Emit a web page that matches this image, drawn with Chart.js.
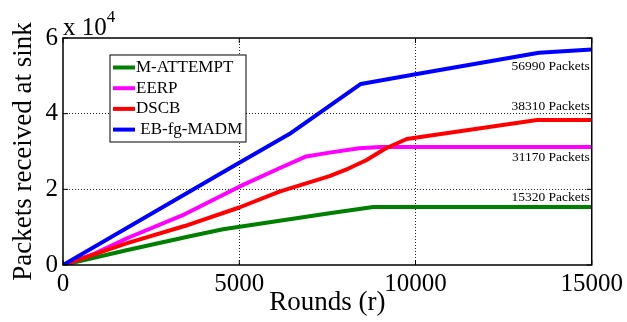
<!DOCTYPE html>
<html>
<head>
<meta charset="utf-8">
<script src="https://cdn.jsdelivr.net/npm/chart.js@4.4.1/dist/chart.umd.min.js"></script>
<style>
  html, body { margin: 0; padding: 0; background: #fff; }
  #wrap { width: 627px; height: 322px; }
</style>
</head>
<body>
<div id="wrap"><canvas id="lineChart" width="627" height="322"></canvas></div>
<script>
const seriesNames = ['M-ATTEMPT', 'EERP', 'DSCB', ' EB-fg-MADM'];
const seriesColors = ['#008000', '#ff00ff', '#ff0000', '#0000ff'];

// rounds / packets
const attemptRounds = [0, 1800, 3600, 4540, 7560, 8800, 15000];
const attemptPackets = [0, 3900, 7600, 9430, 13660, 15320, 15320];

const eerpRounds = [0, 900, 1800, 3450, 5000, 6140, 6900, 7560, 8400, 9000, 15000];
const eerpPackets = [0, 3000, 7000, 13400, 20700, 25560, 28700, 29700, 30850, 31170, 31170];

const dscbRounds = [0, 1800, 3450, 5000, 6140, 7560, 8100, 8600, 9150, 9750, 13450, 15000];
const dscbPackets = [0, 5700, 10300, 15200, 19400, 23500, 25500, 27700, 30800, 33300, 38310, 38310];

const madmRounds = [0, 4730, 6420, 8450, 10000, 13500, 15000];
const madmPackets = [0, 25560, 34600, 47850, 50400, 56120, 56990];

const xTicks = [0, 5000, 10000, 15000];
const yTicks = [0, 20000, 40000, 60000];

const serif = '"Liberation Serif", "Times New Roman", serif';

const allRounds = [attemptRounds, eerpRounds, dscbRounds, madmRounds];
const allPackets = [attemptPackets, eerpPackets, dscbPackets, madmPackets];

// end label shift (px) relative to the line
const labelShift = [-10, 10, -14, 17];

const datasets = seriesNames.map(function (name, i) {
    return {
        label: name.trim(),
        data: allRounds[i].map(function (r, j) { return { x: r, y: allPackets[i][j] }; }),
        borderColor: seriesColors[i],
        backgroundColor: seriesColors[i],
        borderWidth: 4,
        pointRadius: 0,
        tension: 0,
        borderJoinStyle: 'round',
        order: seriesNames.length - i
    };
});

function gridColor(ticks) {
    return function (c) {
        const v = c.tick.value;
        return (v === ticks[0] || v === ticks[ticks.length - 1]) ? 'rgba(0,0,0,0)' : '#222';
    };
}

const frameAndText = {
    id: 'frameAndText',
    afterDatasetsDraw(chart) {
        const ctx = chart.ctx;
        const a = chart.chartArea;
        const x = chart.scales.x;
        const y = chart.scales.y;
        ctx.save();

        // box + inward ticks
        ctx.strokeStyle = '#000';
        ctx.lineWidth = 1.5;
        ctx.strokeRect(a.left, a.top, a.right - a.left, a.bottom - a.top);
        ctx.lineWidth = 1;
        ctx.beginPath();
        xTicks.forEach(function (v) {
            const px = x.getPixelForValue(v);
            ctx.moveTo(px, a.bottom); ctx.lineTo(px, a.bottom - 5);
            ctx.moveTo(px, a.top); ctx.lineTo(px, a.top + 5);
        });
        yTicks.forEach(function (v) {
            const py = y.getPixelForValue(v);
            ctx.moveTo(a.left, py); ctx.lineTo(a.left + 5, py);
            ctx.moveTo(a.right, py); ctx.lineTo(a.right - 5, py);
        });
        ctx.stroke();

        // exponent
        ctx.fillStyle = '#000';
        ctx.textAlign = 'left';
        ctx.textBaseline = 'alphabetic';
        ctx.font = '25px ' + serif;
        ctx.fillText('x 10', a.left, a.top - 3);
        const w = ctx.measureText('x 10').width;
        ctx.font = '17px ' + serif;
        ctx.fillText('4', a.left + w, a.top - 16);

        // final values
        ctx.font = '13.5px ' + serif;
        ctx.textAlign = 'right';
        ctx.textBaseline = 'middle';
        allPackets.forEach(function (p, i) {
            const last = p[p.length - 1];
            ctx.fillText(last + ' Packets', a.right - 2, y.getPixelForValue(last) + labelShift[i]);
        });

        // legend
        const lx = a.left + 47, ly = a.top + 17;
        ctx.fillStyle = '#fff';
        ctx.fillRect(lx, ly, 136, 87);
        ctx.strokeStyle = '#000';
        ctx.lineWidth = 1;
        ctx.strokeRect(lx, ly, 136, 87);
        ctx.font = '17px ' + serif;
        ctx.textAlign = 'left';
        seriesNames.forEach(function (name, i) {
            const ry = ly + 12.5 + i * 20.7;
            ctx.strokeStyle = seriesColors[i];
            ctx.lineWidth = 4;
            ctx.beginPath();
            ctx.moveTo(lx + 3, ry);
            ctx.lineTo(lx + 25, ry);
            ctx.stroke();
            ctx.fillStyle = '#000';
            ctx.fillText(name, lx + 26, ry);
        });
        ctx.restore();
    }
};

const config = {
    type: 'line',
    data: { datasets: datasets },
    options: {
        responsive: false,
        animation: false,
        layout: { padding: { top: 38, right: 34, left: 0, bottom: 0 } },
        scales: {
            x: {
                type: 'linear',
                min: xTicks[0],
                max: xTicks[xTicks.length - 1],
                afterFit: function (s) { s.height = 57; },
                afterBuildTicks: function (s) { s.ticks = xTicks.map(function (v) { return { value: v }; }); },
                ticks: {
                    color: '#000',
                    padding: 4,
                    maxRotation: 0,
                    font: { family: serif, size: 25 },
                    callback: function (v) { return String(v); }
                },
                grid: { color: gridColor(xTicks), lineWidth: 1, drawTicks: false },
                border: { display: false, dash: [1, 2] },
                title: {
                    display: true,
                    text: 'Rounds (r)',
                    color: '#000',
                    padding: { top: 0, bottom: 3 },
                    font: { family: serif, size: 27 }
                }
            },
            y: {
                min: yTicks[0],
                max: yTicks[yTicks.length - 1],
                afterFit: function (s) { s.width = 63; },
                afterBuildTicks: function (s) { s.ticks = yTicks.map(function (v) { return { value: v }; }); },
                ticks: {
                    color: '#000',
                    padding: 5,
                    font: { family: serif, size: 25 },
                    callback: function (v) { return String(v / 10000); }
                },
                grid: { color: gridColor(yTicks), lineWidth: 1, drawTicks: false },
                border: { display: false, dash: [1, 2] },
                title: {
                    display: true,
                    text: 'Packets received at sink',
                    color: '#000',
                    padding: { top: 8, bottom: 0 },
                    font: { family: serif, size: 27 }
                }
            }
        },
        plugins: {
            legend: { display: false },
            tooltip: { enabled: false }
        }
    },
    plugins: [frameAndText]
};

new Chart(document.getElementById('lineChart').getContext('2d'), config);
</script>
</body>
</html>
